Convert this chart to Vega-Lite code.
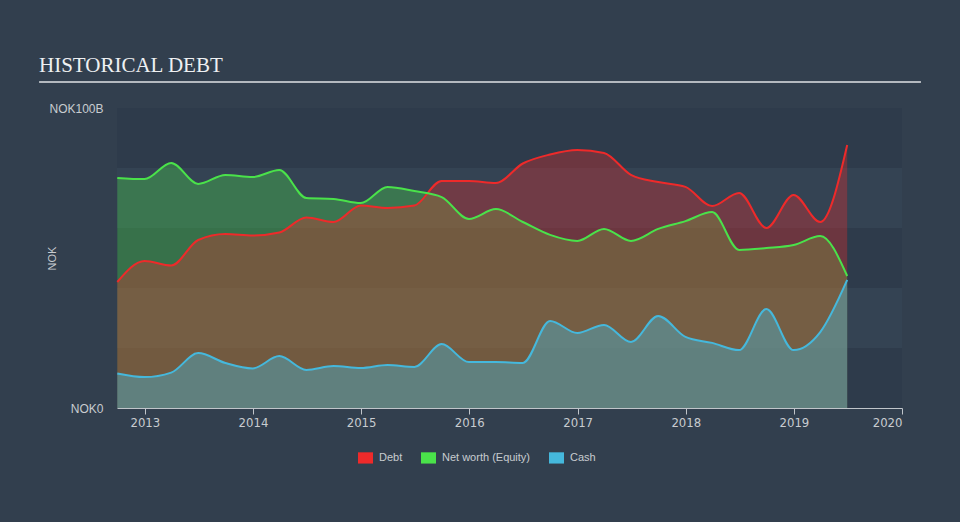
{
  "$schema": "https://vega.github.io/schema/vega-lite/v6.json",
  "width": 785,
  "height": 300,
  "autosize": {"type": "none"},
  "padding": {"left": 117, "top": 108, "right": 58, "bottom": 114},
  "background": "#323f4e",
  "config": {"view": {"stroke": null, "fill": "#2e3b4b"}, "font": "Liberation Sans"},
  "title": {
    "text": "HISTORICAL DEBT",
    "font": "Liberation Serif",
    "fontSize": 21,
    "fontWeight": "normal",
    "color": "#eef0f2",
    "anchor": "start",
    "frame": "group",
    "dx": -78,
    "dy": 40,
    "baseline": "alphabetic",
    "offset": 28
  },
  "datasets": {
    "bands": [{"y0": 20, "y1": 40}, {"y0": 60, "y1": 80}],
    "fin": [
      {"date": "2012-09-30", "series": "Debt", "value": 42},
      {"date": "2012-12-31", "series": "Debt", "value": 49},
      {"date": "2013-03-31", "series": "Debt", "value": 47.5},
      {"date": "2013-06-30", "series": "Debt", "value": 56},
      {"date": "2013-09-30", "series": "Debt", "value": 58},
      {"date": "2013-12-31", "series": "Debt", "value": 57.5},
      {"date": "2014-03-31", "series": "Debt", "value": 58.5},
      {"date": "2014-06-30", "series": "Debt", "value": 63.5},
      {"date": "2014-09-30", "series": "Debt", "value": 62},
      {"date": "2014-12-31", "series": "Debt", "value": 67.5},
      {"date": "2015-03-31", "series": "Debt", "value": 66.7},
      {"date": "2015-06-30", "series": "Debt", "value": 67.5},
      {"date": "2015-09-30", "series": "Debt", "value": 75.7},
      {"date": "2015-12-31", "series": "Debt", "value": 75.7},
      {"date": "2016-03-31", "series": "Debt", "value": 75},
      {"date": "2016-06-30", "series": "Debt", "value": 81.5},
      {"date": "2016-09-30", "series": "Debt", "value": 84.5},
      {"date": "2016-12-31", "series": "Debt", "value": 86},
      {"date": "2017-03-31", "series": "Debt", "value": 85},
      {"date": "2017-06-30", "series": "Debt", "value": 77.7},
      {"date": "2017-09-30", "series": "Debt", "value": 75.3},
      {"date": "2017-12-31", "series": "Debt", "value": 73.7},
      {"date": "2018-03-31", "series": "Debt", "value": 67.3},
      {"date": "2018-06-30", "series": "Debt", "value": 71.7},
      {"date": "2018-09-30", "series": "Debt", "value": 60},
      {"date": "2018-12-31", "series": "Debt", "value": 71},
      {"date": "2019-03-31", "series": "Debt", "value": 62},
      {"date": "2019-06-30", "series": "Debt", "value": 87.7},
      {"date": "2012-09-30", "series": "Net worth (Equity)", "value": 76.7},
      {"date": "2012-12-31", "series": "Net worth (Equity)", "value": 76.3},
      {"date": "2013-03-31", "series": "Net worth (Equity)", "value": 81.7},
      {"date": "2013-06-30", "series": "Net worth (Equity)", "value": 74.7},
      {"date": "2013-09-30", "series": "Net worth (Equity)", "value": 77.7},
      {"date": "2013-12-31", "series": "Net worth (Equity)", "value": 77},
      {"date": "2014-03-31", "series": "Net worth (Equity)", "value": 79.3},
      {"date": "2014-06-30", "series": "Net worth (Equity)", "value": 70},
      {"date": "2014-09-30", "series": "Net worth (Equity)", "value": 69.7},
      {"date": "2014-12-31", "series": "Net worth (Equity)", "value": 68.3},
      {"date": "2015-03-31", "series": "Net worth (Equity)", "value": 73.7},
      {"date": "2015-06-30", "series": "Net worth (Equity)", "value": 72.3},
      {"date": "2015-09-30", "series": "Net worth (Equity)", "value": 70.3},
      {"date": "2015-12-31", "series": "Net worth (Equity)", "value": 63},
      {"date": "2016-03-31", "series": "Net worth (Equity)", "value": 66.3},
      {"date": "2016-06-30", "series": "Net worth (Equity)", "value": 62},
      {"date": "2016-09-30", "series": "Net worth (Equity)", "value": 57.7},
      {"date": "2016-12-31", "series": "Net worth (Equity)", "value": 55.7},
      {"date": "2017-03-31", "series": "Net worth (Equity)", "value": 59.7},
      {"date": "2017-06-30", "series": "Net worth (Equity)", "value": 55.7},
      {"date": "2017-09-30", "series": "Net worth (Equity)", "value": 59.7},
      {"date": "2017-12-31", "series": "Net worth (Equity)", "value": 62.3},
      {"date": "2018-03-31", "series": "Net worth (Equity)", "value": 65.3},
      {"date": "2018-06-30", "series": "Net worth (Equity)", "value": 52.7},
      {"date": "2018-09-30", "series": "Net worth (Equity)", "value": 53.3},
      {"date": "2018-12-31", "series": "Net worth (Equity)", "value": 54.3},
      {"date": "2019-03-31", "series": "Net worth (Equity)", "value": 57.3},
      {"date": "2019-06-30", "series": "Net worth (Equity)", "value": 44},
      {"date": "2012-09-30", "series": "Cash", "value": 11.5},
      {"date": "2012-12-31", "series": "Cash", "value": 10.3},
      {"date": "2013-03-31", "series": "Cash", "value": 11.8},
      {"date": "2013-06-30", "series": "Cash", "value": 18.3},
      {"date": "2013-09-30", "series": "Cash", "value": 15},
      {"date": "2013-12-31", "series": "Cash", "value": 13.2},
      {"date": "2014-03-31", "series": "Cash", "value": 17.3},
      {"date": "2014-06-30", "series": "Cash", "value": 12.7},
      {"date": "2014-09-30", "series": "Cash", "value": 14},
      {"date": "2014-12-31", "series": "Cash", "value": 13.3},
      {"date": "2015-03-31", "series": "Cash", "value": 14.3},
      {"date": "2015-06-30", "series": "Cash", "value": 13.7},
      {"date": "2015-09-30", "series": "Cash", "value": 21.3},
      {"date": "2015-12-31", "series": "Cash", "value": 15.3},
      {"date": "2016-03-31", "series": "Cash", "value": 15.3},
      {"date": "2016-06-30", "series": "Cash", "value": 15},
      {"date": "2016-09-30", "series": "Cash", "value": 29},
      {"date": "2016-12-31", "series": "Cash", "value": 25},
      {"date": "2017-03-31", "series": "Cash", "value": 27.7},
      {"date": "2017-06-30", "series": "Cash", "value": 22},
      {"date": "2017-09-30", "series": "Cash", "value": 30.7},
      {"date": "2017-12-31", "series": "Cash", "value": 23.7},
      {"date": "2018-03-31", "series": "Cash", "value": 21.7},
      {"date": "2018-06-30", "series": "Cash", "value": 19.3},
      {"date": "2018-09-30", "series": "Cash", "value": 33},
      {"date": "2018-12-31", "series": "Cash", "value": 19.3},
      {"date": "2019-03-31", "series": "Cash", "value": 25.3},
      {"date": "2019-06-30", "series": "Cash", "value": 42.7}
    ],
    "underline": [{"x0": "2012-01-10", "x1": "2020-03-05", "y": 108.7}]
  },
  "layer": [
    {
      "data": {"name": "bands"},
      "mark": {"type": "rect", "fill": "#344353"},
      "encoding": {
        "y": {"field": "y0", "type": "quantitative", "scale": {"domain": [0, 100]}},
        "y2": {"field": "y1"}
      }
    },
    {
      "data": {"name": "fin"},
      "layer": [
        {
          "transform": [{"filter": "datum.series == 'Net worth (Equity)'"}],
          "mark": {"type": "area", "interpolate": "monotone", "fill": "#4ae24a", "fillOpacity": 0.32},
          "encoding": {
            "x": {"field": "date", "type": "temporal"},
            "y": {"field": "value", "type": "quantitative"}
          }
        },
        {
          "transform": [{"filter": "datum.series == 'Debt'"}],
          "mark": {"type": "area", "interpolate": "monotone", "fill": "#ee2a2a", "fillOpacity": 0.32},
          "encoding": {
            "x": {"field": "date", "type": "temporal"},
            "y": {"field": "value", "type": "quantitative"}
          }
        },
        {
          "transform": [{"filter": "datum.series == 'Cash'"}],
          "mark": {"type": "area", "interpolate": "monotone", "fill": "#45b8dc", "fillOpacity": 0.4},
          "encoding": {
            "x": {"field": "date", "type": "temporal"},
            "y": {"field": "value", "type": "quantitative"}
          }
        },
        {
          "mark": {"type": "line", "interpolate": "monotone", "strokeWidth": 2},
          "encoding": {
            "x": {"field": "date", "type": "temporal"},
            "y": {"field": "value", "type": "quantitative"},
            "color": {
              "field": "series",
              "type": "nominal",
              "sort": ["Debt", "Net worth (Equity)", "Cash"],
              "scale": {"domain": ["Debt", "Net worth (Equity)", "Cash"], "range": ["#ee2a2a", "#4ae24a", "#45b8dc"]},
              "legend": {
                "title": null,
                "orient": "none",
                "direction": "horizontal",
                "legendX": 241,
                "legendY": 342,
                "symbolType": "M-1,-0.75L1,-0.75L1,0.75L-1,0.75Z",
                "symbolSize": 225,
                "symbolStrokeWidth": 0,
                "labelColor": "#c8ccd0",
                "labelFontSize": 11,
                "labelOffset": 6,
                "columnPadding": 18,
                "encode": {"symbols": {"update": {"fill": {"scale": "color", "field": "value"}, "strokeWidth": {"value": 0}}}}
              }
            }
          }
        }
      ]
    },
    {
      "data": {"name": "underline"},
      "mark": {"type": "rule", "stroke": "#b4b9bf", "strokeWidth": 2, "clip": false},
      "encoding": {
        "x": {"field": "x0", "type": "temporal"},
        "x2": {"field": "x1"},
        "y": {"field": "y", "type": "quantitative"}
      }
    }
  ],
  "resolve": {"scale": {"x": "shared", "y": "shared"}},
  "encoding": {
    "x": {
      "type": "temporal",
      "title": null,
      "scale": {"domain": [{"year": 2012, "month": 9, "date": 29}, {"year": 2020, "month": 1, "date": 1}]},
      "axis": {
        "values": [
          {"year": 2013, "month": 1, "date": 1},
          {"year": 2014, "month": 1, "date": 1},
          {"year": 2015, "month": 1, "date": 1},
          {"year": 2016, "month": 1, "date": 1},
          {"year": 2017, "month": 1, "date": 1},
          {"year": 2018, "month": 1, "date": 1},
          {"year": 2019, "month": 1, "date": 1},
          {"year": 2020, "month": 1, "date": 1}
        ],
        "format": "%Y",
        "grid": false,
        "domainColor": "#c0c5ca",
        "tickColor": "#c0c5ca",
        "tickSize": 6,
        "labelColor": "#c8ccd0",
        "labelFont": "'DejaVu Sans Condensed', 'Liberation Sans', sans-serif",
        "labelFontSize": 13,
        "labelPadding": 2
      }
    },
    "y": {
      "type": "quantitative",
      "title": "NOK",
      "scale": {"domain": [0, 100]},
      "axis": {
        "values": [0, 100],
        "labelExpr": "datum.value == 0 ? 'NOK0' : 'NOK100B'",
        "grid": false,
        "domain": false,
        "ticks": false,
        "labelPadding": 14,
        "labelColor": "#c8ccd0",
        "labelFontSize": 12,
        "titleColor": "#c8ccd0",
        "titleFontSize": 11,
        "titleFontWeight": "normal",
        "titleX": -65,
        "titleY": 150,
        "titleAlign": "center",
        "titleBaseline": "middle"
      }
    }
  }
}
